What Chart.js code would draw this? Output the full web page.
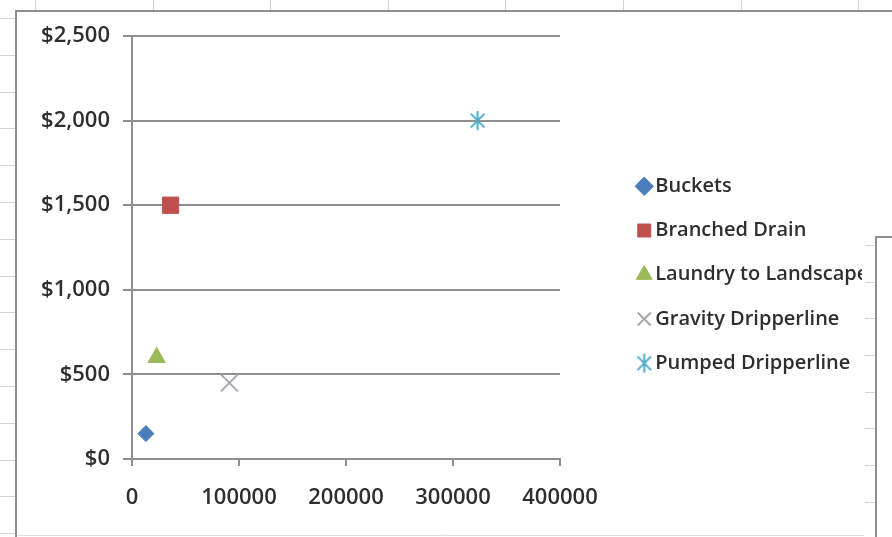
<!DOCTYPE html>
<html>
<head>
<meta charset="utf-8">
<script src="https://cdn.jsdelivr.net/npm/chart.js@4/dist/chart.umd.min.js"></script>
<style>
  html, body { margin: 0; padding: 0; background: #fff; }
  #wrap { position: relative; width: 892px; height: 537px; }
  canvas { display: block; }
</style>
</head>
<body>
<div id="wrap"><canvas id="c" width="892" height="537"></canvas></div>
<script>
// Greywater system types: x value and installed cost
const seriesNames = ['Buckets', 'Branched Drain', 'Laundry to Landscape', 'Gravity Dripperline', 'Pumped Dripperline'];
const xValues = [13000, 36000, 23000, 91000, 323000];
const costValues = [150, 1500, 600, 450, 2000];
const xTickValues = [0, 100000, 200000, 300000, 400000];
const yTickValues = [0, 500, 1000, 1500, 2000, 2500];

const AXIS_GREY = '#8f8f8f';
const TEXT_COLOR = '#2e2e2e';
const AXIS_FONT = { family: "'Open Sans', sans-serif", size: 22, weight: '600' };
const LEGEND_FONT = { family: "'Open Sans', sans-serif", size: 20, weight: '600' };

// Excel-style "star" marker: an X with a vertical stroke
function asteriskMarker(size, color, lw) {
  const c = document.createElement('canvas');
  c.width = c.height = size;
  const g = c.getContext('2d');
  const m = size / 2, a = size / 2 - 1, d = a * 0.72;
  g.strokeStyle = color;
  g.lineWidth = lw;
  g.beginPath();
  g.moveTo(m, m - a); g.lineTo(m, m + a);
  g.moveTo(m - d, m - d); g.lineTo(m + d, m + d);
  g.moveTo(m - d, m + d); g.lineTo(m + d, m - d);
  g.stroke();
  return c;
}

const markerStyles = [
  { pointStyle: 'rectRot', radius: 8, color: '#4a7ebb', border: 1 },
  { pointStyle: 'rect', radius: 11.5, color: '#c0504d', border: 1 },
  { pointStyle: 'triangle', radius: 10, color: '#9bbb59', border: 1 },
  { pointStyle: 'crossRot', radius: 12, color: '#a7a7b3', border: 2 },
  { pointStyle: asteriskMarker(21, '#4bacc6', 2), radius: 10, color: '#4bacc6', border: 2 }
];

const datasets = seriesNames.map((name, i) => ({
  label: name,
  data: [{ x: xValues[i], y: costValues[i] }],
  pointStyle: markerStyles[i].pointStyle,
  pointRadius: markerStyles[i].radius,
  backgroundColor: markerStyles[i].color,
  borderColor: markerStyles[i].color,
  pointBorderWidth: markerStyles[i].border,
  borderWidth: markerStyles[i].border,
  showLine: false
}));

// Worksheet cells and chart frame behind the plot
const sheetBackdrop = {
  id: 'sheetBackdrop',
  beforeDraw(chart) {
    const ctx = chart.ctx;
    ctx.save();
    ctx.fillStyle = '#ffffff';
    ctx.fillRect(0, 0, chart.width, chart.height);
    ctx.strokeStyle = '#d4d4d4';
    ctx.lineWidth = 1;
    ctx.beginPath();
    for (let y = 18; y < 537; y += 36.8) {
      const py = Math.round(y) + 0.5;
      ctx.moveTo(0, py); ctx.lineTo(15, py);
    }
    for (let x = 35; x < 892; x += 117.6) {
      const px = Math.round(x) + 0.5;
      ctx.moveTo(px, 0); ctx.lineTo(px, 10);
    }
    ctx.stroke();
    ctx.strokeStyle = AXIS_GREY;
    ctx.lineWidth = 2;
    ctx.beginPath();
    ctx.moveTo(16, 537); ctx.lineTo(16, 11); ctx.lineTo(892, 11);
    ctx.stroke();
    ctx.strokeStyle = '#dedede';
    ctx.lineWidth = 1;
    ctx.beginPath();
    ctx.moveTo(17, 535.5); ctx.lineTo(864, 535.5);
    ctx.stroke();
    ctx.restore();
  },
  afterDraw(chart) {
    // neighbouring chart object at the lower right
    const ctx = chart.ctx;
    ctx.save();
    ctx.fillStyle = '#ffffff';
    ctx.fillRect(877, 238, 15, 299);
    ctx.strokeStyle = '#d4d4d4';
    ctx.lineWidth = 1;
    ctx.beginPath();
    for (let y = 245; y < 537; y += 36.7) {
      const py = Math.round(y) + 0.5;
      ctx.moveTo(865, py); ctx.lineTo(875, py);
    }
    ctx.stroke();
    ctx.strokeStyle = AXIS_GREY;
    ctx.lineWidth = 2;
    ctx.beginPath();
    ctx.moveTo(876, 537); ctx.lineTo(876, 237); ctx.lineTo(892, 237);
    ctx.stroke();
    ctx.restore();
  }
};

// Legend keeps a fixed width and sits beside the plot
const legendPlacement = {
  id: 'legendPlacement',
  afterInit(chart) {
    const legend = chart.legend;
    const fit = legend.fit;
    legend.fit = function () { fit.call(this); this.width = 332; };
  },
  afterLayout(chart) {
    const l = chart.legend;
    l.left = 619; l.right = 862;
    l.top = 152; l.bottom = 537;
  }
};

new Chart(document.getElementById('c'), {
  type: 'scatter',
  data: { datasets },
  plugins: [sheetBackdrop, legendPlacement],
  options: {
    responsive: false,
    animation: false,
    events: [],
    layout: { padding: { left: 16, top: 36, right: 0, bottom: 0 } },
    plugins: {
      tooltip: { enabled: false },
      legend: {
        position: 'right',
        align: 'start',
        labels: {
          usePointStyle: true,
          boxWidth: 2,
          boxHeight: 13,
          padding: 24.25,
          color: TEXT_COLOR,
          font: LEGEND_FONT
        }
      }
    },
    scales: {
      x: {
        type: 'linear',
        min: xTickValues[0],
        max: xTickValues[xTickValues.length - 1],
        afterBuildTicks: axis => { axis.ticks = xTickValues.map(v => ({ value: v })); },
        afterFit: axis => { axis.height = 78; },
        grid: { drawOnChartArea: false, color: AXIS_GREY, lineWidth: 2, tickLength: 7 },
        border: { display: true, color: AXIS_GREY, width: 2 },
        ticks: { padding: 19, color: TEXT_COLOR, font: AXIS_FONT, maxRotation: 0, callback: v => String(v) }
      },
      y: {
        type: 'linear',
        min: yTickValues[0],
        max: yTickValues[yTickValues.length - 1],
        afterBuildTicks: axis => { axis.ticks = yTickValues.map(v => ({ value: v })); },
        afterFit: axis => { axis.width = 116; },
        grid: { color: AXIS_GREY, lineWidth: 2, tickLength: 9 },
        border: { display: true, color: AXIS_GREY, width: 2 },
        ticks: { padding: 13, color: TEXT_COLOR, font: AXIS_FONT, callback: v => '$' + v.toLocaleString('en-US') }
      }
    }
  }
});
</script>
</body>
</html>
